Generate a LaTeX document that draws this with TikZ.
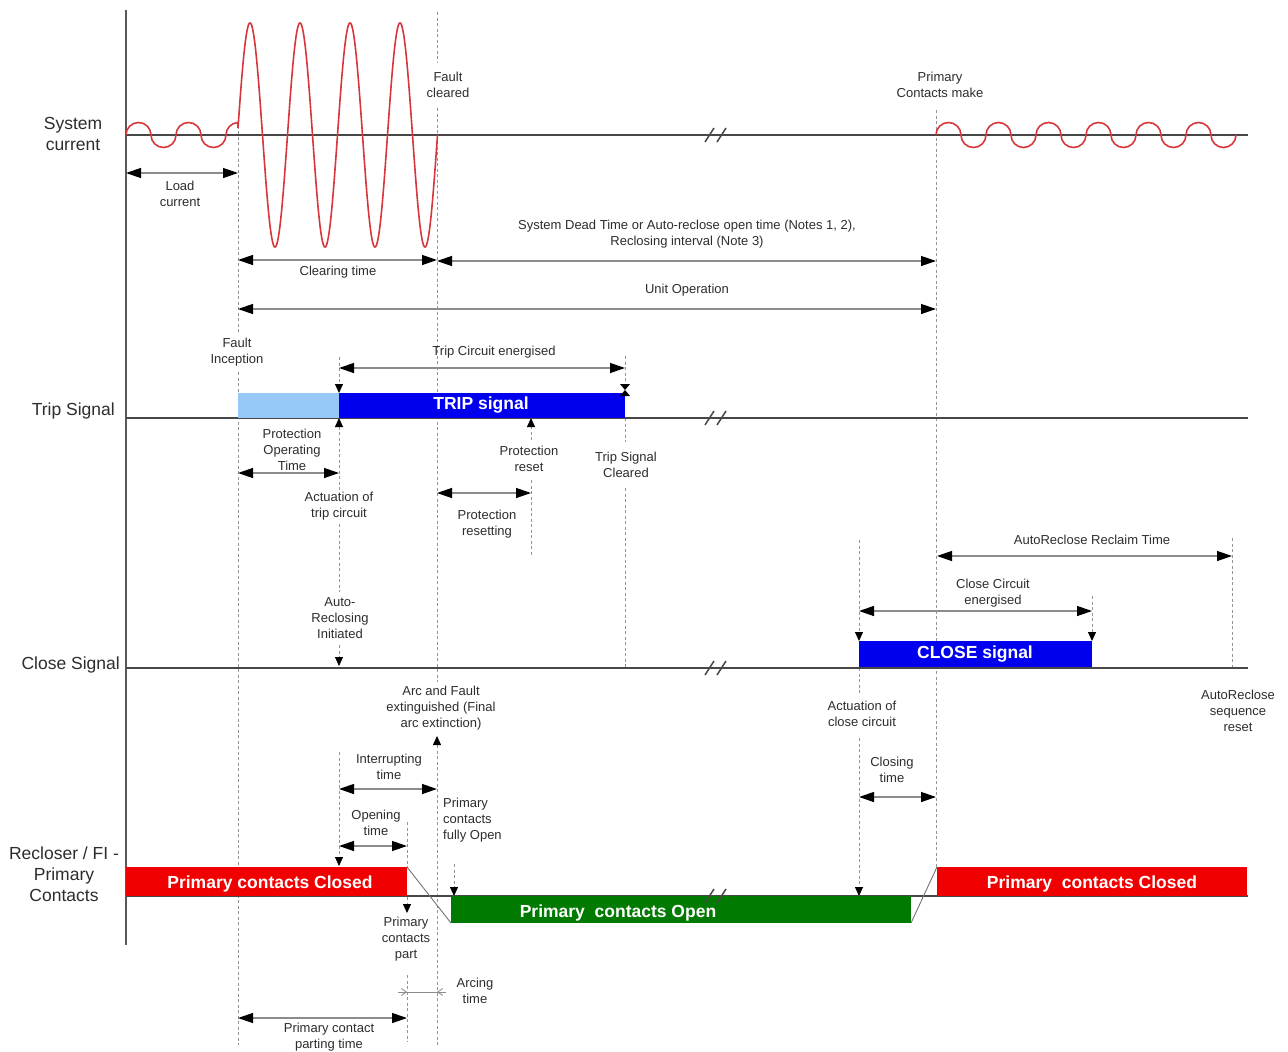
\documentclass[tikz,border=0pt]{standalone}
\usepackage{fontspec}
\setmainfont{Liberation Sans}
\usetikzlibrary{arrows.meta}
\definecolor{tripc}{RGB}{0,0,238}
\definecolor{tripl}{RGB}{150,200,248}
\definecolor{cred}{RGB}{240,0,0}
\definecolor{cgreen}{RGB}{0,122,0}
\definecolor{wavec}{RGB}{215,55,60}
\definecolor{txt}{RGB}{45,45,45}
\begin{document}
\begin{tikzpicture}[x=1pt,y=-1pt,
  base/.style={line width=2pt, draw=black!72},
  wave/.style={draw=wavec, line width=1.6pt},
  guide/.style={draw=black!42, line width=0.8pt, dash pattern=on 3pt off 2.5pt},
  tipd/.style={guide, -{Triangle[length=9pt,width=8pt,color=black]}},
  dim/.style={draw=black!45, line width=1.3pt, {Triangle[length=15pt,width=10pt,color=black]}-{Triangle[length=15pt,width=10pt,color=black]}},
  lbl/.style={font=\fontsize{13}{15.8}\selectfont, align=center, text=txt, inner sep=0pt},
  big/.style={font=\fontsize{17.5}{21}\selectfont, text=txt, inner sep=0pt},
  bartext/.style={font=\bfseries\fontsize{17.5}{21}\selectfont, text=white, inner sep=0pt},
  brk/.style={draw=black!72, line width=1.5pt},
  trans/.style={draw=black!55, line width=0.9pt}
]
\useasboundingbox (0,0) rectangle (1288,1052);
\fill[white] (0,0) rectangle (1288,1052);

% ---------- dashed guide lines ----------
\draw[guide] (238,120) -- (238,332);
\draw[guide] (238,372) -- (238,1045);
\draw[guide] (437,12) -- (437,63);
\draw[guide] (437,108) -- (437,682);
\draw[tipd] (437,1045) -- (437,736);
\draw[guide] (936,110) -- (936,868);
\draw[tipd] (339,357) -- (339,393);
\draw[tipd] (339,490) -- (339,418);
\draw[guide] (339,524) -- (339,592);
\draw[tipd] (339,645) -- (339,666);
\draw[tipd] (339,752) -- (339,866);
\draw[tipd] (531,440) -- (531,418);
\draw[guide] (531,480) -- (531,557);
\draw[guide] (625,356) -- (625,384);
\draw[guide] (625,418) -- (625,442);
\draw[guide] (625,488) -- (625,668);
\draw[tipd] (859,540) -- (859,641);
\draw[guide] (859,668) -- (859,694);
\draw[tipd] (859,738) -- (859,896);
\draw[tipd] (1092,596) -- (1092,641);
\draw[guide] (1232,538) -- (1232,667);
\draw[guide] (407,822) -- (407,867);
\draw[tipd] (407,897) -- (407,913);
\draw[guide] (407,975) -- (407,1042);
\draw[tipd] (454,864) -- (454,896);

% ---------- axes and baselines ----------
\draw[line width=2.6pt, black!65] (126,10) -- (126,945);
\draw[base] (126,135) -- (1248,135);
\draw[base] (126,418) -- (1248,418);
\draw[base] (126,668) -- (1248,668);
\draw[base] (126,896) -- (1248,896);

% ---------- waves ----------
\draw[wave] (126,135) arc[start angle=180,end angle=0,radius=12.5pt]
  arc[start angle=180,end angle=360,radius=12.5pt]
  arc[start angle=180,end angle=0,radius=12.5pt]
  arc[start angle=180,end angle=360,radius=12.5pt]
  arc[start angle=180,end angle=92,radius=12.5pt]
  -- plot[domain=238:437.5,samples=400,smooth] (\x,{135-112*cos(7.2*(\x-250))});
\draw[wave] (936,135)
  \foreach \k in {1,...,6}{ arc[start angle=180,end angle=0,radius=12.5pt]
  arc[start angle=180,end angle=360,radius=12.5pt] };

% ---------- signal bars ----------
\fill[tripl] (238,393) rectangle (339,418);
\fill[tripc] (339,393) rectangle (625,418);
\node[bartext] (tript) at (481,405) {TRIP signal};
\fill[tripc] (859,641) rectangle (1092,667);
\node[bartext] (closet) at (975,654) {CLOSE signal};
\fill[cred] (126,867) rectangle (407,896);
\node[bartext] (pcc1) at (270,884) {Primary contacts Closed};
\fill[cgreen] (451,896) rectangle (911,923);
\node[bartext] (pco) at (618,913) {Primary\ \ contacts Open};
\fill[cred] (937,867) rectangle (1247,896);
\node[bartext] (pcc2) at (1092,884) {Primary\ \ contacts Closed};
\draw[trans] (407,867) -- (451,923);
\draw[trans] (911,923) -- (937,867);
% bowtie at trip signal cleared
\fill[black] (620,384) -- (630,384) -- (625,390) -- cycle;
\fill[black] (620,396) -- (630,396) -- (625,390) -- cycle;

% break marks on top of everything
\foreach \yy in {135,418,668,896}{
  \draw[brk] (705,\yy+7) -- (714,\yy-7);
  \draw[brk] (717,\yy+7) -- (726,\yy-7);
}

% ---------- dimension arrows ----------
\draw[dim] (126,173) -- (238,173);
\draw[dim] (238,260) -- (437,260);
\draw[dim] (437,261) -- (936,261);
\draw[dim] (238,309) -- (936,309);
\draw[dim] (339,368) -- (625,368);
\draw[dim] (238,473) -- (339,473);
\draw[dim] (437,493) -- (531,493);
\draw[dim] (937,556) -- (1232,556);
\draw[dim] (859,611) -- (1092,611);
\draw[dim] (339,789) -- (437,789);
\draw[dim] (339,846) -- (407,846);
\draw[dim] (859,797) -- (936,797);
\draw[dim] (238,1018) -- (407,1018);
\draw[draw=black!45, line width=0.8pt] (398,992) -- (444,992);
\draw[draw=black!45, line width=0.8pt, -{Straight Barb[length=5pt,width=7pt]}] (398,992) -- (407,992);
\draw[draw=black!45, line width=0.8pt, -{Straight Barb[length=5pt,width=7pt]}] (446,992) -- (437,992);

% ---------- row labels ----------
\node[big, align=center] (sysc) at (73,134) {System\\current};
\node[big, anchor=east] (trips) at (115,411) {Trip Signal};
\node[big, anchor=east] (closes) at (120,665) {Close Signal};
\node[big, align=center] (recl) at (64,874) {Recloser / FI -\\Primary\\Contacts};

% ---------- annotations ----------
\node[lbl] (fc) at (448,85) {Fault\\cleared};
\node[lbl] (pcm) at (940,85) {Primary\\Contacts make};
\node[lbl] (lc) at (180,194) {Load\\current};
\node[lbl] (ct) at (338,272) {Clearing time};
\node[lbl] (sdt) at (687,234) {System Dead Time or Auto-reclose open time (Notes 1, 2),\\Reclosing interval (Note 3)};
\node[lbl] (uo) at (687,290) {Unit Operation};
\node[lbl] (fi) at (237,352) {Fault\\Inception};
\node[lbl] (tce) at (494,352) {Trip Circuit energised};
\node[lbl] (pot) at (292,450) {Protection\\Operating\\Time};
\node[lbl] (atc) at (339,506) {Actuation of\\trip circuit};
\node[lbl] (pr) at (529,459) {Protection\\reset};
\node[lbl] (prs) at (487,524) {Protection\\resetting};
\node[lbl] (tsc) at (626,465) {Trip Signal\\Cleared};
\node[lbl] (ari) at (340,618) {Auto-\\Reclosing\\Initiated};
\node[lbl] (arrt) at (1092,540) {AutoReclose Reclaim Time};
\node[lbl] (cce) at (993,593) {Close Circuit\\energised};
\node[lbl] (afe) at (441,708) {Arc and Fault\\extinguished (Final\\arc extinction)};
\node[lbl] (acc) at (862,714) {Actuation of\\close circuit};
\node[lbl] (arsr) at (1238,711) {AutoReclose\\sequence\\reset};
\node[lbl] (it) at (389,767) {Interrupting\\time};
\node[lbl] (clt) at (892,770) {Closing\\time};
\node[lbl, align=left, anchor=west] (pcfo) at (443,820) {Primary\\contacts\\fully Open};
\node[lbl] (ot) at (376,823) {Opening\\time};
\node[lbl] (pcp) at (406,939) {Primary\\contacts\\part};
\node[lbl] (at) at (475,991) {Arcing\\time};
\node[lbl] (pcpt) at (329,1037) {Primary contact\\parting time};
\end{tikzpicture}
\end{document}
